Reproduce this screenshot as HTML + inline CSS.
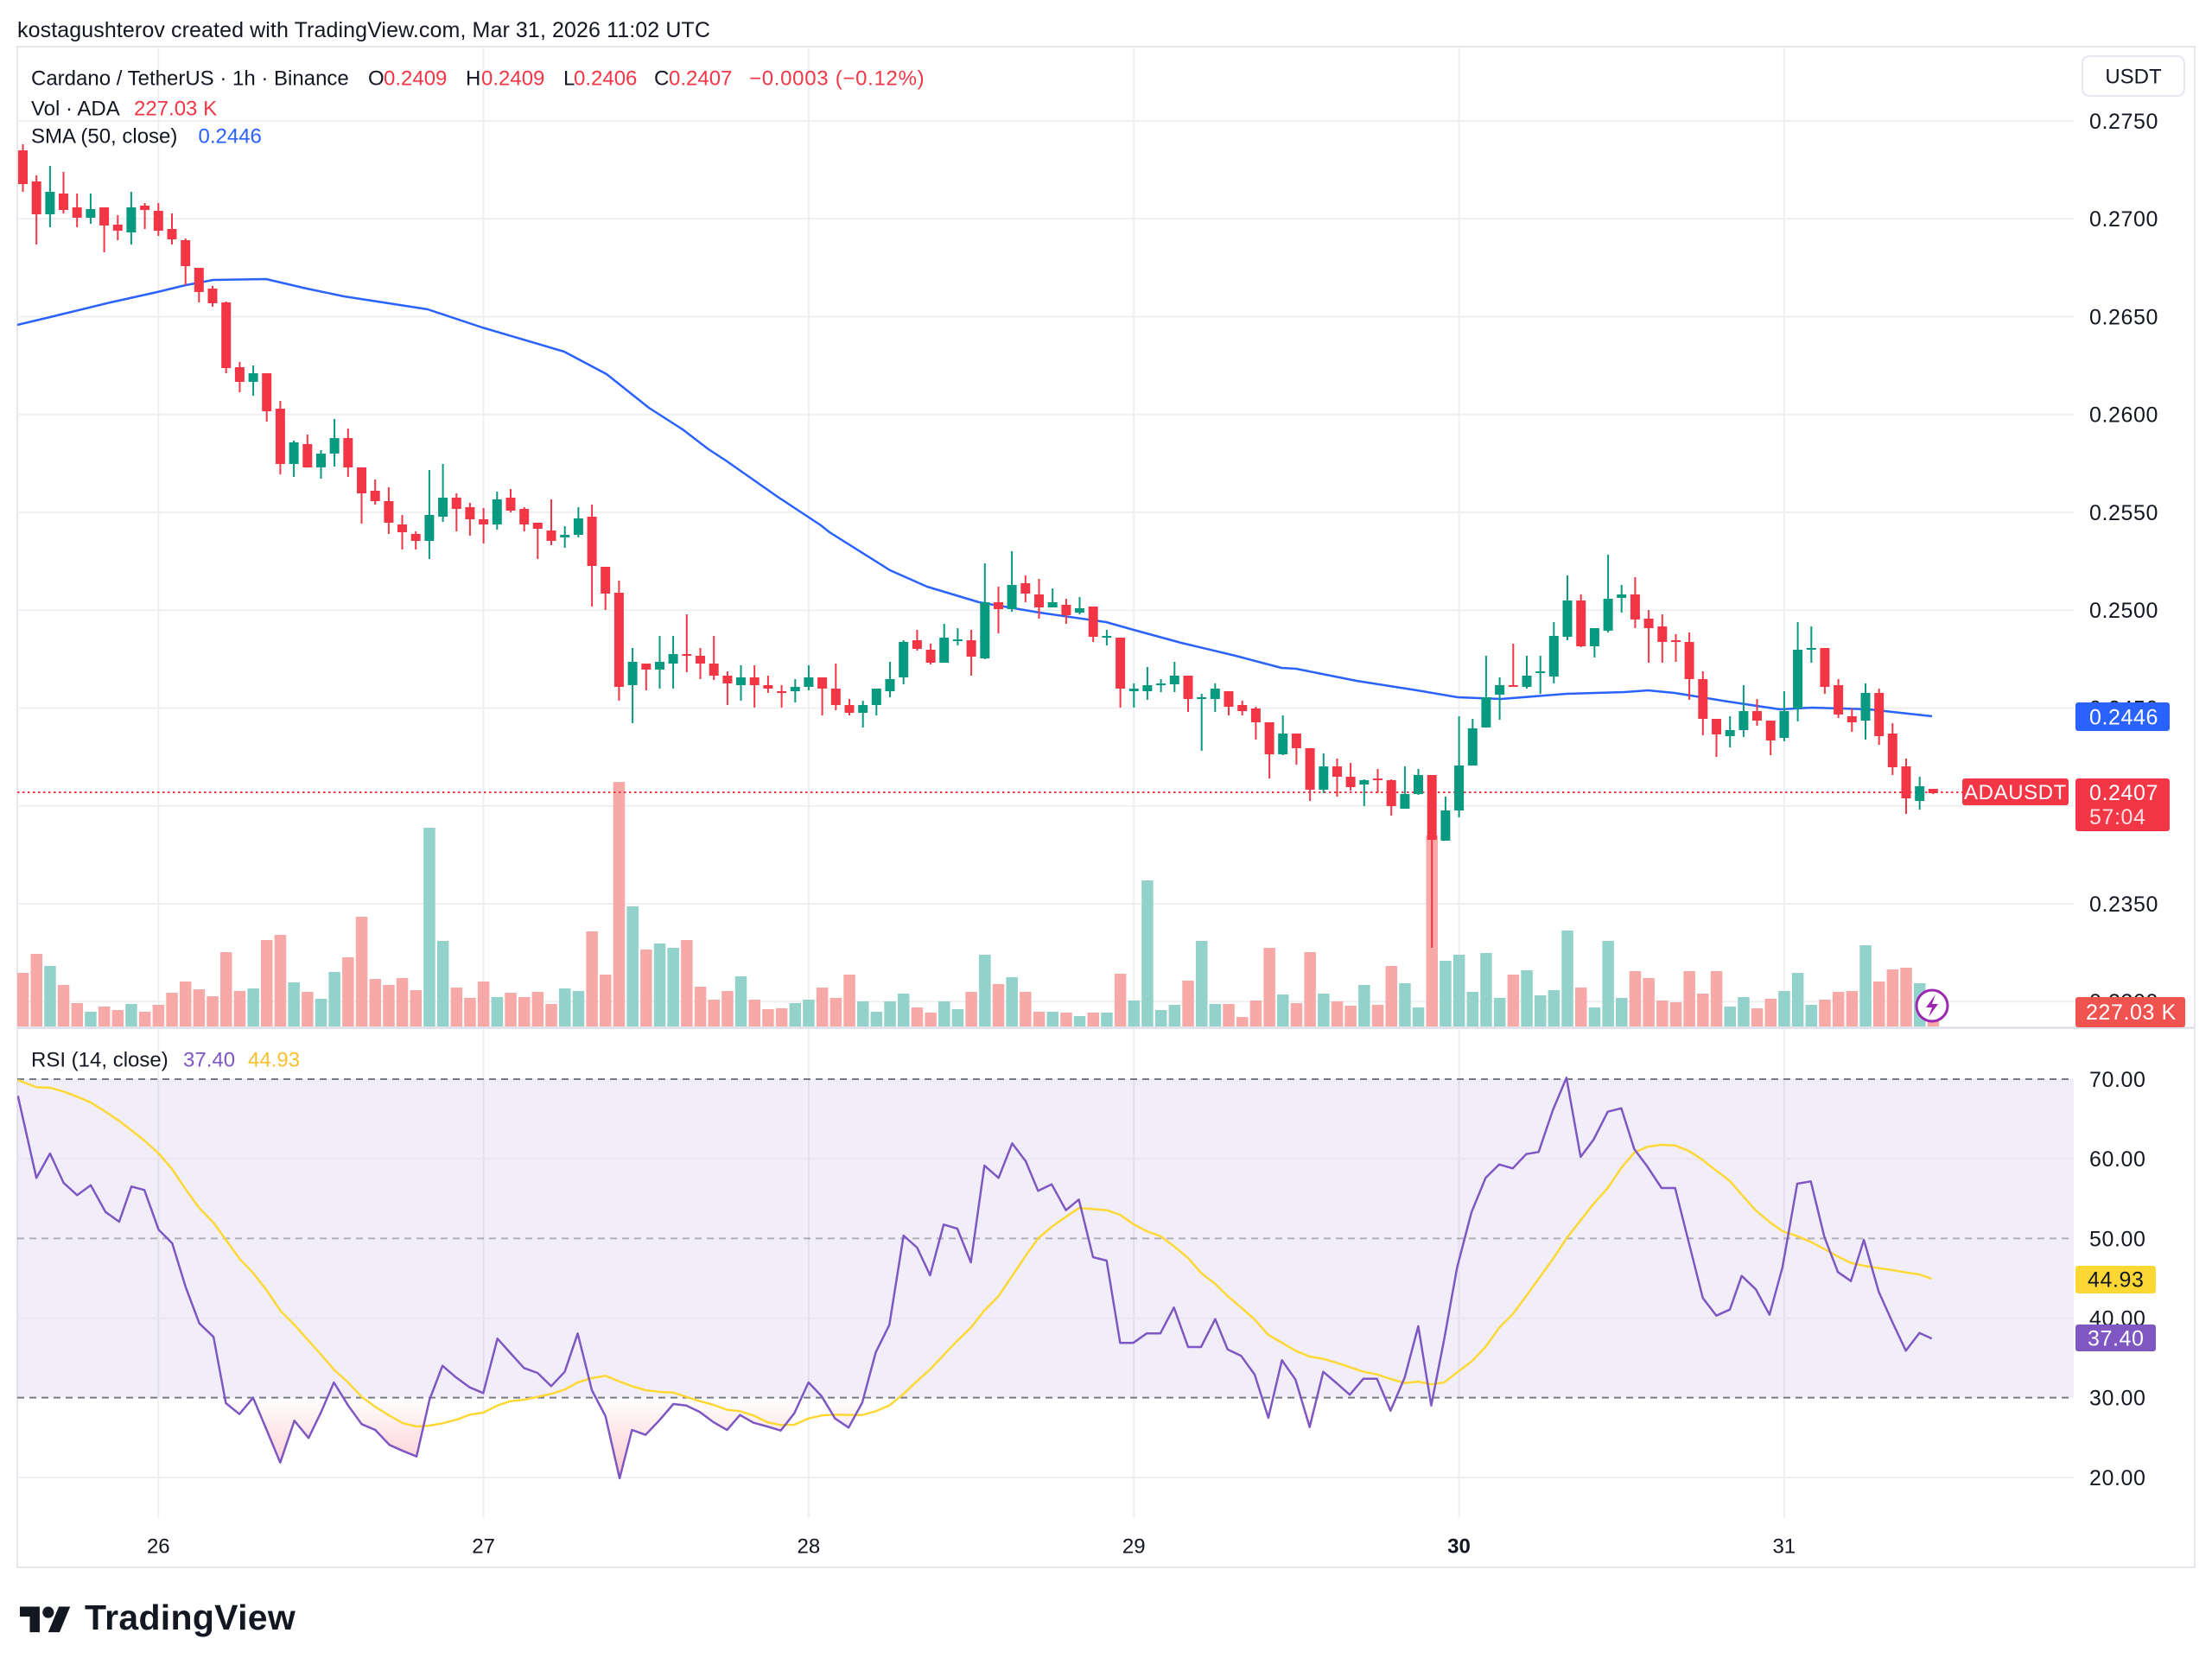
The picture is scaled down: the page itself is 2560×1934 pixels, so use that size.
<!DOCTYPE html>
<html><head><meta charset="utf-8"><style>
html,body{margin:0;padding:0;background:#fff;}
svg{display:block;}
text{font-family:"Liberation Sans",Arial,sans-serif;}
</style></head><body>
<svg width="2560" height="1934" viewBox="0 0 2560 1934" xmlns="http://www.w3.org/2000/svg">
<defs>
<clipPath id="mainc"><rect x="20" y="54" width="2380" height="1134"/></clipPath>
<clipPath id="rsic"><rect x="20" y="1191" width="2380" height="566"/></clipPath>
<clipPath id="below30"><rect x="20" y="1617.6" width="2380" height="140"/></clipPath>
<linearGradient id="pinkg" gradientUnits="userSpaceOnUse" x1="0" y1="1617.6" x2="0" y2="1712"><stop offset="0" stop-color="#f23645" stop-opacity="0"/><stop offset="1" stop-color="#f23645" stop-opacity="0.28"/></linearGradient>
</defs>
<rect width="2560" height="1934" fill="#fff"/>
<text x="20" y="43" font-size="25" letter-spacing="0.1" fill="#131722">kostagushterov created with TradingView.com, Mar 31, 2026 11:02 UTC</text>
<!-- frame -->
<rect x="20" y="54" width="2520" height="1760" fill="none" stroke="#e6e8ee" stroke-width="2"/>
<!-- vertical grid -->
<g stroke="#eeeff2" stroke-width="2">
<path d="M183.3 54V1188M559.6 54V1188M935.9 54V1188M1312.2 54V1188M1688.5 54V1188M2064.8 54V1188"/>
<path d="M183.3 1191V1757M559.6 1191V1757M935.9 1191V1757M1312.2 1191V1757M1688.5 1191V1757M2064.8 1191V1757"/>
<path d="M20 140H2400M20 253.25H2400M20 366.5H2400M20 479.75H2400M20 593H2400M20 706.25H2400M20 819.5H2400M20 932.75H2400M20 1046H2400M20 1159.25H2400"/>
</g>
<!-- pane separator -->
<path d="M20 1189.5H2540" stroke="#e0e3eb" stroke-width="3"/>

<g clip-path="url(#mainc)">
<!-- volume -->
<path fill="#f7a9a7" d="M19.8 1126h13.5V1188h-13.5zM35.5 1104h13.5V1188h-13.5zM66.8 1140h13.5V1188h-13.5zM82.5 1161h13.5V1188h-13.5zM113.9 1165h13.5V1188h-13.5zM129.6 1169h13.5V1188h-13.5zM160.9 1171h13.5V1188h-13.5zM176.6 1163h13.5V1188h-13.5zM192.3 1149h13.5V1188h-13.5zM208 1136h13.5V1188h-13.5zM223.6 1145h13.5V1188h-13.5zM239.3 1153h13.5V1188h-13.5zM255 1102h13.5V1188h-13.5zM270.7 1147h13.5V1188h-13.5zM302 1088h13.5V1188h-13.5zM317.7 1082h13.5V1188h-13.5zM349.1 1148h13.5V1188h-13.5zM396.1 1108h13.5V1188h-13.5zM411.8 1061h13.5V1188h-13.5zM427.5 1133h13.5V1188h-13.5zM443.2 1140h13.5V1188h-13.5zM458.8 1132h13.5V1188h-13.5zM474.5 1146h13.5V1188h-13.5zM521.6 1143h13.5V1188h-13.5zM537.2 1155h13.5V1188h-13.5zM552.9 1136h13.5V1188h-13.5zM584.3 1149h13.5V1188h-13.5zM600 1154h13.5V1188h-13.5zM615.6 1148h13.5V1188h-13.5zM631.3 1162h13.5V1188h-13.5zM678.4 1078h13.5V1188h-13.5zM694 1128h13.5V1188h-13.5zM709.7 905h13.5V1188h-13.5zM741.1 1099h13.5V1188h-13.5zM788.1 1088h13.5V1188h-13.5zM803.8 1142h13.5V1188h-13.5zM819.5 1157h13.5V1188h-13.5zM835.2 1147h13.5V1188h-13.5zM866.5 1157h13.5V1188h-13.5zM882.2 1168h13.5V1188h-13.5zM897.9 1167h13.5V1188h-13.5zM944.9 1143h13.5V1188h-13.5zM960.6 1155h13.5V1188h-13.5zM976.3 1128h13.5V1188h-13.5zM1054.7 1166h13.5V1188h-13.5zM1070.4 1172h13.5V1188h-13.5zM1117.4 1148h13.5V1188h-13.5zM1148.8 1139h13.5V1188h-13.5zM1180.1 1148h13.5V1188h-13.5zM1195.8 1171h13.5V1188h-13.5zM1227.2 1172h13.5V1188h-13.5zM1258.5 1172h13.5V1188h-13.5zM1289.9 1127h13.5V1188h-13.5zM1368.3 1135h13.5V1188h-13.5zM1415.3 1162h13.5V1188h-13.5zM1431 1177h13.5V1188h-13.5zM1446.7 1158h13.5V1188h-13.5zM1462.4 1097h13.5V1188h-13.5zM1493.7 1161h13.5V1188h-13.5zM1509.4 1102h13.5V1188h-13.5zM1540.8 1159h13.5V1188h-13.5zM1556.4 1164h13.5V1188h-13.5zM1587.8 1163h13.5V1188h-13.5zM1603.5 1118h13.5V1188h-13.5zM1650.5 967h13.5V1188h-13.5zM1744.6 1128h13.5V1188h-13.5zM1823 1143h13.5V1188h-13.5zM1885.7 1124h13.5V1188h-13.5zM1901.4 1132h13.5V1188h-13.5zM1917.1 1158h13.5V1188h-13.5zM1932.8 1160h13.5V1188h-13.5zM1948.4 1124h13.5V1188h-13.5zM1964.1 1150h13.5V1188h-13.5zM1979.8 1124h13.5V1188h-13.5zM2026.8 1167h13.5V1188h-13.5zM2042.5 1156h13.5V1188h-13.5zM2105.2 1157h13.5V1188h-13.5zM2120.9 1148h13.5V1188h-13.5zM2136.6 1147h13.5V1188h-13.5zM2168 1136h13.5V1188h-13.5zM2183.6 1122h13.5V1188h-13.5zM2199.3 1120h13.5V1188h-13.5zM2230.7 1182h13.5V1188h-13.5z"/>
<path fill="#92d2cb" d="M51.2 1118h13.5V1188h-13.5zM98.2 1171h13.5V1188h-13.5zM145.2 1162h13.5V1188h-13.5zM286.4 1144h13.5V1188h-13.5zM333.4 1137h13.5V1188h-13.5zM364.8 1156h13.5V1188h-13.5zM380.4 1125h13.5V1188h-13.5zM490.2 958h13.5V1188h-13.5zM505.9 1089h13.5V1188h-13.5zM568.6 1154h13.5V1188h-13.5zM647 1144h13.5V1188h-13.5zM662.7 1147h13.5V1188h-13.5zM725.4 1049h13.5V1188h-13.5zM756.8 1092h13.5V1188h-13.5zM772.4 1097h13.5V1188h-13.5zM850.8 1130h13.5V1188h-13.5zM913.6 1161h13.5V1188h-13.5zM929.2 1157h13.5V1188h-13.5zM992 1159h13.5V1188h-13.5zM1007.6 1171h13.5V1188h-13.5zM1023.3 1159h13.5V1188h-13.5zM1039 1150h13.5V1188h-13.5zM1086 1159h13.5V1188h-13.5zM1101.7 1168h13.5V1188h-13.5zM1133.1 1105h13.5V1188h-13.5zM1164.4 1131h13.5V1188h-13.5zM1211.5 1171h13.5V1188h-13.5zM1242.8 1176h13.5V1188h-13.5zM1274.2 1172h13.5V1188h-13.5zM1305.6 1158h13.5V1188h-13.5zM1321.2 1019h13.5V1188h-13.5zM1336.9 1169h13.5V1188h-13.5zM1352.6 1163h13.5V1188h-13.5zM1384 1089h13.5V1188h-13.5zM1399.6 1162h13.5V1188h-13.5zM1478 1151h13.5V1188h-13.5zM1525.1 1150h13.5V1188h-13.5zM1572.1 1140h13.5V1188h-13.5zM1619.2 1138h13.5V1188h-13.5zM1634.8 1166h13.5V1188h-13.5zM1666.2 1112h13.5V1188h-13.5zM1681.9 1105h13.5V1188h-13.5zM1697.6 1148h13.5V1188h-13.5zM1713.2 1103h13.5V1188h-13.5zM1728.9 1155h13.5V1188h-13.5zM1760.3 1123h13.5V1188h-13.5zM1776 1152h13.5V1188h-13.5zM1791.6 1146h13.5V1188h-13.5zM1807.3 1077h13.5V1188h-13.5zM1838.7 1166h13.5V1188h-13.5zM1854.4 1089h13.5V1188h-13.5zM1870 1155h13.5V1188h-13.5zM1995.5 1165h13.5V1188h-13.5zM2011.2 1154h13.5V1188h-13.5zM2058.2 1147h13.5V1188h-13.5zM2073.9 1126h13.5V1188h-13.5zM2089.6 1163h13.5V1188h-13.5zM2152.3 1094h13.5V1188h-13.5zM2215 1138h13.5V1188h-13.5z"/>
<!-- current price dotted line -->
<path d="M20 917H2271" stroke="#f23645" stroke-width="2" stroke-dasharray="2.5 3.5"/>
<!-- SMA -->
<polyline fill="none" stroke="#2962ff" stroke-width="2.5" stroke-linejoin="round" points="20,376 58,367 128,350 182,338 215,330 247,324 308,323 355,334 398,343 495,358 558,379 653,407 702,433 751,472 790,497 820,520 840,533 900,575 950,608 960,616 1030,660 1073,679 1133,697 1203,709 1280,720 1312,729 1367,744 1430,759 1483,773 1500,774 1570,788 1640,799 1687,807 1737,809 1813,803 1880,801 1907,799 1938,802 2000,812 2060,821 2097,819 2163,821 2236,829"/>
<!-- wicks -->
<path fill="none" stroke="#f23645" stroke-width="2" d="M26.5 167V222M42.2 203V283M73.5 199V247M89.2 224V263M120.6 240V292M136.3 249V278M167.6 235V265M183.3 235V273M199 247V283M214.7 276V330M230.3 310V350M246 331V355M261.7 349V432M277.4 419V454M308.7 432V488M324.4 464V549M355.8 503V541M402.8 496V552M418.5 541V606M434.2 555V584M449.9 564V618M465.5 596V636M481.2 615V636M528.3 571V615M543.9 582V620M559.6 588V629M591 566V593M606.7 587V615M622.3 605V647M638 578V631M685.1 584V702M700.7 656V706M716.4 672V811M747.8 768V799M794.8 711V778M810.5 750V786M826.2 736V787M841.9 777V816M873.2 770V819M888.9 782V802M904.6 793V819M951.6 784V828M967.3 768V822M983 809V828M1061.4 729V753M1077.1 745V769M1124.1 729V782M1155.5 679V733M1186.8 666V697M1202.5 670V716M1233.9 693V722M1265.2 702V743M1296.6 738V819M1375 782V824M1422 800V828M1437.7 811V828M1453.4 818V856M1469.1 836V901M1500.4 849V885M1516.1 866V927M1547.5 878V922M1563.1 883V915M1594.5 890V918M1610.2 902V944M1657.2 897V1097M1751.3 745V795M1829.7 688V749M1892.4 668V727M1908.1 706V767M1923.8 711V767M1939.5 734V766M1955.1 732V810M1970.8 777V851M1986.5 832V876M2033.5 809V840M2049.2 834V874M2111.9 750V803M2127.6 786V831M2143.3 820V847M2174.7 797V862M2190.3 837V897M2206 878V942M2237.4 913V919"/>
<path fill="none" stroke="#089981" stroke-width="2" d="M57.9 192V263M104.9 224V259M151.9 222V283M293.1 423V458M340.1 510V552M371.5 521V554M387.1 485V540M496.9 544V647M512.6 537V604M575.3 569V613M653.7 609V634M669.4 587V622M732.1 750V837M763.5 736V797M779.1 736V797M857.5 770V811M920.3 786V813M935.9 770V799M998.7 811V842M1014.3 797V828M1030 766V807M1045.7 741V792M1092.7 722V767M1108.4 727V747M1139.8 652V763M1171.1 638V708M1218.2 681V703M1249.5 691V711M1280.9 729V747M1312.3 791V819M1327.9 772V810M1343.6 786V801M1359.3 766V801M1390.7 803V869M1406.3 791V824M1484.7 828V874M1531.8 872V918M1578.8 902V933M1625.9 887V936M1641.5 890V920M1672.9 922V973M1688.6 829V946M1704.3 832V886M1719.9 759V842M1735.6 784V833M1767 759V797M1782.7 759V803M1798.3 720V791M1814 666V741M1845.4 727V761M1861.1 642V732M1876.7 677V709M2002.2 829V865M2017.9 793V853M2064.9 800V858M2080.6 720V835M2096.3 725V767M2159 791V856M2221.7 899V937"/>
<!-- bodies -->
<path fill="#f23645" d="M21 174h11V213h-11zM36.7 210h11V248h-11zM68 224h11V243h-11zM83.7 240h11V252h-11zM115.1 240h11V261h-11zM130.8 260h11V267h-11zM162.1 238h11V243h-11zM177.8 244h11V267h-11zM193.5 265h11V277h-11zM209.2 278h11V308h-11zM224.8 310h11V338h-11zM240.5 334h11V351h-11zM256.2 350h11V426h-11zM271.9 425h11V442h-11zM303.2 432h11V476h-11zM318.9 473h11V537h-11zM350.3 514h11V541h-11zM397.3 507h11V541h-11zM413 541h11V571h-11zM428.7 568h11V580h-11zM444.4 580h11V605h-11zM460 607h11V616h-11zM475.7 618h11V626h-11zM522.8 576h11V589h-11zM538.4 587h11V601h-11zM554.1 601h11V607h-11zM585.5 576h11V591h-11zM601.2 589h11V607h-11zM616.8 605h11V612h-11zM632.5 614h11V626h-11zM679.6 598h11V655h-11zM695.2 656h11V687h-11zM710.9 686h11V795h-11zM742.3 768h11V775h-11zM789.3 757h11V759h-11zM805 759h11V768h-11zM820.7 768h11V782h-11zM836.4 782h11V791h-11zM867.7 784h11V793h-11zM883.4 793h11V797h-11zM899.1 800h11V802h-11zM946.1 784h11V797h-11zM961.8 797h11V816h-11zM977.5 816h11V825h-11zM1055.9 741h11V751h-11zM1071.6 752h11V767h-11zM1118.6 741h11V760h-11zM1150 697h11V705h-11zM1181.3 675h11V687h-11zM1197 688h11V703h-11zM1228.4 700h11V712h-11zM1259.7 702h11V737h-11zM1291.1 738h11V797h-11zM1369.5 782h11V809h-11zM1416.5 800h11V818h-11zM1432.2 816h11V823h-11zM1447.9 820h11V836h-11zM1463.6 836h11V873h-11zM1494.9 849h11V866h-11zM1510.6 866h11V914h-11zM1542 887h11V899h-11zM1557.6 899h11V911h-11zM1589 901h11V903h-11zM1604.7 903h11V933h-11zM1651.7 897h11V972h-11zM1745.8 793h11V795h-11zM1824.2 695h11V748h-11zM1886.9 688h11V717h-11zM1902.6 716h11V727h-11zM1918.3 725h11V743h-11zM1934 741h11V743h-11zM1949.6 743h11V786h-11zM1965.3 786h11V832h-11zM1981 832h11V850h-11zM2028 823h11V834h-11zM2043.7 834h11V857h-11zM2106.4 750h11V795h-11zM2122.1 793h11V827h-11zM2137.8 829h11V836h-11zM2169.2 802h11V852h-11zM2184.8 849h11V888h-11zM2200.5 887h11V924h-11zM2231.9 913h11V918h-11z"/>
<path fill="#089981" d="M52.4 222h11V248h-11zM99.4 242h11V252h-11zM146.4 240h11V269h-11zM287.6 432h11V442h-11zM334.6 512h11V537h-11zM366 525h11V541h-11zM381.6 507h11V525h-11zM491.4 596h11V626h-11zM507.1 576h11V598h-11zM569.8 578h11V607h-11zM648.2 619h11V622h-11zM663.9 600h11V619h-11zM726.6 766h11V793h-11zM758 766h11V775h-11zM773.6 757h11V768h-11zM852 784h11V793h-11zM914.8 795h11V800h-11zM930.4 784h11V795h-11zM993.2 816h11V825h-11zM1008.8 797h11V816h-11zM1024.5 786h11V800h-11zM1040.2 743h11V784h-11zM1087.2 738h11V767h-11zM1102.9 740h11V742h-11zM1134.3 697h11V762h-11zM1165.6 677h11V705h-11zM1212.7 697h11V703h-11zM1244 704h11V709h-11zM1275.4 736h11V738h-11zM1306.8 797h11V800h-11zM1322.4 793h11V800h-11zM1338.1 791h11V793h-11zM1353.8 782h11V792h-11zM1385.2 807h11V809h-11zM1400.8 797h11V809h-11zM1479.2 849h11V873h-11zM1526.3 887h11V914h-11zM1573.3 903h11V908h-11zM1620.4 919h11V936h-11zM1636 897h11V919h-11zM1667.4 938h11V973h-11zM1683.1 886h11V938h-11zM1698.8 843h11V886h-11zM1714.4 807h11V842h-11zM1730.1 793h11V804h-11zM1761.5 782h11V795h-11zM1777.2 777h11V779h-11zM1792.8 736h11V783h-11zM1808.5 695h11V737h-11zM1839.9 727h11V748h-11zM1855.6 693h11V730h-11zM1871.2 688h11V692h-11zM1996.7 845h11V852h-11zM2012.4 823h11V845h-11zM2059.4 823h11V854h-11zM2075.1 752h11V820h-11zM2090.8 750h11V752h-11zM2153.5 802h11V834h-11zM2216.2 910h11V927h-11z"/>
<!-- lightning icon -->
<circle cx="2236" cy="1164" r="18" fill="#fff" stroke="#9c27b0" stroke-width="3"/>
<path d="M2240 1151L2229 1166H2236L2232 1177L2243 1162H2236Z" fill="#9c27b0"/>
</g>

<!-- legends main -->
<g font-size="24" fill="#131722">
<text x="36" y="98.6">Cardano / TetherUS · 1h · Binance</text>
<text x="426" y="98.6">O</text><text x="444" y="98.6" fill="#f23645">0.2409</text>
<text x="539" y="98.6">H</text><text x="557" y="98.6" fill="#f23645">0.2409</text>
<text x="652" y="98.6">L</text><text x="664" y="98.6" fill="#f23645">0.2406</text>
<text x="757" y="98.6">C</text><text x="774" y="98.6" fill="#f23645">0.2407</text>
<text x="867" y="98.6" fill="#f23645" letter-spacing="0.7">−0.0003 (−0.12%)</text>
<text x="36" y="133.6">Vol · ADA</text><text x="155" y="133.6" fill="#f23645">227.03 K</text>
<text x="36" y="165.6">SMA (50, close)</text><text x="229.5" y="165.6" fill="#2962ff">0.2446</text>
</g>

<!-- RSI pane -->
<rect x="20" y="1249" width="2380" height="368.6" fill="#7e57c2" fill-opacity="0.1"/>
<g stroke="#e9e6f1" stroke-width="2"><path d="M20 1341.2H2400M20 1525.6H2400"/></g>
<path d="M20 1710H2400" stroke="#eeeff2" stroke-width="2"/>
<path d="M20 1249H2400M20 1617.6H2400" stroke="#787b86" stroke-width="2" stroke-dasharray="8 6"/>
<path d="M20 1433.4H2400" stroke="#787b86" stroke-opacity="0.55" stroke-width="2" stroke-dasharray="8 6"/>
<g clip-path="url(#rsic)">
<g clip-path="url(#below30)">
<polygon fill="url(#pinkg)" points="20.7,1268.3 42.1,1363.3 57.9,1335 73.6,1369 89.3,1383.3 105,1371.7 122.1,1402.7 137.9,1414 152.1,1373.3 167.1,1377.3 183.6,1423.3 199.3,1439 215,1490 230.7,1531.7 247.1,1547.3 261.4,1624 277.1,1636.7 292.9,1617.7 308.6,1655 324.3,1692.7 340.7,1644.3 357.1,1664.3 372.1,1633.3 386.4,1600 402.9,1626.7 418.6,1648.3 434.3,1655 450.7,1672.3 466.4,1679.3 482.1,1685.7 497.1,1620 512.1,1580.7 527.9,1594.3 543.6,1605.7 559.3,1612.3 575.7,1549.3 590.7,1566 606.4,1583.3 622.1,1589 637.9,1604.3 653.6,1587.7 668.6,1543.3 685,1609 700.7,1639 717.1,1711 731.4,1655 747.1,1660.7 763.6,1643.3 779.3,1625 794.3,1626.7 810,1634.3 825.7,1646 841.4,1655 856.4,1637.7 872.1,1646.7 887.9,1651 903.6,1655.7 919.3,1635.7 935.7,1600 950.7,1615.7 966.4,1641.7 982.1,1652.3 997.9,1623.3 1013.6,1565 1029.3,1533.3 1045.7,1430 1061.4,1444 1076.4,1476 1092.1,1417.3 1107.9,1422 1123.6,1461 1139.3,1349 1155.7,1363.3 1171.4,1323.3 1187.1,1344 1201.4,1378.3 1217.1,1370.7 1233.6,1400.7 1248.6,1388.3 1265,1455 1280.7,1459 1296.4,1554.3 1311.4,1554.3 1327.1,1543.3 1342.9,1543.3 1358.6,1513.3 1375,1559 1390,1559 1406.4,1526.7 1420.7,1561.7 1436.4,1569.3 1452.1,1591 1467.9,1641 1483.6,1574.3 1499.3,1596.7 1515.7,1651.7 1531.4,1587.7 1547.1,1601 1562.1,1614.3 1577.9,1595.7 1593.6,1595.7 1609.3,1632.7 1625.7,1594.3 1641.4,1535 1656.4,1626.7 1671.4,1550 1686.4,1466.7 1702.9,1403.3 1719.3,1363.3 1735,1347.7 1750.7,1352.3 1766.4,1335.7 1780.7,1333.3 1797.1,1285 1812.9,1247.3 1829.3,1339 1844.3,1319 1860.7,1286.7 1876.4,1282.7 1891.4,1330 1906.4,1350 1922.9,1375 1938.6,1375 1955,1440 1970.7,1502.3 1986.4,1522.7 2002,1515.7 2015.7,1476.7 2032.1,1492.3 2047.9,1521.7 2062.9,1466.7 2080,1370 2095.7,1367.3 2111.4,1431.7 2127.1,1472.3 2142.1,1482.7 2157.1,1435 2174.3,1495 2190,1530 2205.7,1563.3 2221.4,1542.7 2235.7,1549.3 2235.7,1617.6 20.7,1617.6"/>
</g>
<polyline fill="none" stroke="#fdd835" stroke-width="2.5" stroke-linejoin="round" points="20.7,1250 42.1,1258.3 57.9,1259 73.6,1263.3 89.3,1269.3 105,1276 122.1,1286.7 137.9,1297.3 152.1,1308.3 167.1,1320 183.6,1335 199.3,1353.3 215,1376.7 230.7,1398.3 247.1,1415 261.4,1435 277.1,1456.7 292.9,1473.3 308.6,1493.3 324.3,1516.7 340.7,1533.3 357.1,1551.7 372.1,1568.3 386.4,1585 402.9,1600 418.6,1616.7 434.3,1628.3 450.7,1638.3 466.4,1647.3 482.1,1651 497.1,1650 512.1,1647.3 527.9,1643.3 543.6,1637.3 559.3,1635 575.7,1626.7 590.7,1621.7 606.4,1620 622.1,1616.7 637.9,1613.3 653.6,1608.3 668.6,1600 685,1595 700.7,1592.3 717.1,1599 731.4,1604.3 747.1,1609 763.6,1611 779.3,1611.7 794.3,1616.7 810,1621.7 825.7,1626 841.4,1631.7 856.4,1633.3 872.1,1638.3 887.9,1646 903.6,1649.3 919.3,1649 935.7,1641.7 950.7,1638.3 966.4,1637.3 982.1,1637.7 997.9,1637.7 1013.6,1633.3 1029.3,1626.7 1045.7,1613.3 1061.4,1598.3 1076.4,1585 1092.1,1568.3 1107.9,1551.7 1123.6,1536.7 1139.3,1516.7 1155.7,1500 1171.4,1476.7 1187.1,1453.3 1201.4,1433.3 1217.1,1420 1233.6,1408.3 1248.6,1398.3 1265,1399.3 1280.7,1400.7 1296.4,1406 1311.4,1416.7 1327.1,1425 1342.9,1430.7 1358.6,1442.3 1375,1456 1390,1473.3 1406.4,1486 1420.7,1500 1436.4,1513.3 1452.1,1527.3 1467.9,1545 1483.6,1554 1499.3,1563.3 1515.7,1570 1531.4,1572.7 1547.1,1577.3 1562.1,1582.3 1577.9,1587.7 1593.6,1590.7 1609.3,1596 1625.7,1600.7 1641.4,1599 1656.4,1602.3 1671.4,1600 1686.4,1588.3 1702.9,1576 1719.3,1559 1735,1536.7 1750.7,1521 1766.4,1500 1780.7,1480 1797.1,1457.3 1812.9,1433.3 1829.3,1412.3 1844.3,1393.3 1860.7,1375 1876.4,1351.7 1891.4,1334 1906.4,1327.3 1922.9,1325 1938.6,1325.7 1955,1332.3 1970.7,1342.7 1986.4,1355 2002,1366.7 2015.7,1382.7 2032.1,1401 2047.9,1414.3 2062.9,1425 2080,1430.7 2095.7,1437.3 2111.4,1445.7 2127.1,1454.3 2142.1,1461.7 2157.1,1465 2174.3,1467.7 2190,1470 2205.7,1472.7 2221.4,1475 2235.7,1480"/>
<polyline fill="none" stroke="#7e57c2" stroke-width="2.5" stroke-linejoin="round" points="20.7,1268.3 42.1,1363.3 57.9,1335 73.6,1369 89.3,1383.3 105,1371.7 122.1,1402.7 137.9,1414 152.1,1373.3 167.1,1377.3 183.6,1423.3 199.3,1439 215,1490 230.7,1531.7 247.1,1547.3 261.4,1624 277.1,1636.7 292.9,1617.7 308.6,1655 324.3,1692.7 340.7,1644.3 357.1,1664.3 372.1,1633.3 386.4,1600 402.9,1626.7 418.6,1648.3 434.3,1655 450.7,1672.3 466.4,1679.3 482.1,1685.7 497.1,1620 512.1,1580.7 527.9,1594.3 543.6,1605.7 559.3,1612.3 575.7,1549.3 590.7,1566 606.4,1583.3 622.1,1589 637.9,1604.3 653.6,1587.7 668.6,1543.3 685,1609 700.7,1639 717.1,1711 731.4,1655 747.1,1660.7 763.6,1643.3 779.3,1625 794.3,1626.7 810,1634.3 825.7,1646 841.4,1655 856.4,1637.7 872.1,1646.7 887.9,1651 903.6,1655.7 919.3,1635.7 935.7,1600 950.7,1615.7 966.4,1641.7 982.1,1652.3 997.9,1623.3 1013.6,1565 1029.3,1533.3 1045.7,1430 1061.4,1444 1076.4,1476 1092.1,1417.3 1107.9,1422 1123.6,1461 1139.3,1349 1155.7,1363.3 1171.4,1323.3 1187.1,1344 1201.4,1378.3 1217.1,1370.7 1233.6,1400.7 1248.6,1388.3 1265,1455 1280.7,1459 1296.4,1554.3 1311.4,1554.3 1327.1,1543.3 1342.9,1543.3 1358.6,1513.3 1375,1559 1390,1559 1406.4,1526.7 1420.7,1561.7 1436.4,1569.3 1452.1,1591 1467.9,1641 1483.6,1574.3 1499.3,1596.7 1515.7,1651.7 1531.4,1587.7 1547.1,1601 1562.1,1614.3 1577.9,1595.7 1593.6,1595.7 1609.3,1632.7 1625.7,1594.3 1641.4,1535 1656.4,1626.7 1671.4,1550 1686.4,1466.7 1702.9,1403.3 1719.3,1363.3 1735,1347.7 1750.7,1352.3 1766.4,1335.7 1780.7,1333.3 1797.1,1285 1812.9,1247.3 1829.3,1339 1844.3,1319 1860.7,1286.7 1876.4,1282.7 1891.4,1330 1906.4,1350 1922.9,1375 1938.6,1375 1955,1440 1970.7,1502.3 1986.4,1522.7 2002,1515.7 2015.7,1476.7 2032.1,1492.3 2047.9,1521.7 2062.9,1466.7 2080,1370 2095.7,1367.3 2111.4,1431.7 2127.1,1472.3 2142.1,1482.7 2157.1,1435 2174.3,1495 2190,1530 2205.7,1563.3 2221.4,1542.7 2235.7,1549.3"/>
</g>
<g font-size="24">
<text x="36" y="1234.6" fill="#131722">RSI (14, close)</text>
<text x="212" y="1234.6" fill="#7e57c2">37.40</text>
<text x="287" y="1234.6" fill="#f5c12e">44.93</text>
</g>

<!-- price axis -->
<rect x="2410" y="65" width="118" height="46" rx="8" fill="#fff" stroke="#e6e8ee" stroke-width="2"/>
<text x="2469" y="96.6" font-size="24" fill="#131722" text-anchor="middle">USDT</text>
<g font-size="25" fill="#131722" letter-spacing="0.6">
<text x="2418" y="149">0.2750</text>
<text x="2418" y="262.2">0.2700</text>
<text x="2418" y="375.5">0.2650</text>
<text x="2418" y="488.7">0.2600</text>
<text x="2418" y="602">0.2550</text>
<text x="2418" y="715.2">0.2500</text>
<text x="2418" y="828.5">0.2450</text>
<text x="2418" y="1055">0.2350</text>
<text x="2418" y="1168.2">0.2300</text>
<text x="2418" y="1258">70.00</text>
<text x="2418" y="1350.2">60.00</text>
<text x="2418" y="1442.4">50.00</text>
<text x="2418" y="1534.6">40.00</text>
<text x="2418" y="1626.6">30.00</text>
<text x="2418" y="1719">20.00</text>
</g>
<!-- value labels -->
<rect x="2402" y="813" width="109" height="33" rx="3" fill="#2962ff"/>
<text x="2418" y="838.5" font-size="25" fill="#fff" letter-spacing="0.6">0.2446</text>
<rect x="2271" y="901" width="123" height="31" rx="3" fill="#f23645"/>
<text x="2332.5" y="925" font-size="24" fill="#fff" text-anchor="middle" letter-spacing="0.6">ADAUSDT</text>
<rect x="2402" y="901" width="109" height="61" rx="3" fill="#f23645"/>
<text x="2418" y="926" font-size="25" fill="#fff" letter-spacing="0.6">0.2407</text>
<text x="2418" y="954" font-size="25" fill="#fff" fill-opacity="0.85" letter-spacing="0.6">57:04</text>
<rect x="2402" y="1154" width="127" height="35" rx="3" fill="#ef5350"/>
<text x="2414" y="1180" font-size="25" fill="#fff" letter-spacing="0.6">227.03 K</text>
<rect x="2402" y="1465" width="93" height="32" rx="3" fill="#fdd835"/>
<text x="2416" y="1489.6" font-size="25" fill="#131722" letter-spacing="0.6">44.93</text>
<rect x="2402" y="1533" width="93" height="31" rx="3" fill="#7e57c2"/>
<text x="2416" y="1557.6" font-size="25" fill="#fff" letter-spacing="0.6">37.40</text>

<!-- time axis -->
<g font-size="24" fill="#131722" text-anchor="middle">
<text x="183.3" y="1797.6">26</text>
<text x="559.6" y="1797.6">27</text>
<text x="935.9" y="1797.6">28</text>
<text x="1312.2" y="1797.6">29</text>
<text x="1688.5" y="1797.6" font-weight="bold">30</text>
<text x="2064.8" y="1797.6">31</text>
</g>

<!-- logo -->
<g transform="translate(23,1853) scale(1.64)" fill="#131722">
<path d="M14 22H7V11H0V4h14v18zM28 22h-8l7.5-18h8L28 22z"/>
<circle cx="20" cy="8" r="4"/>
</g>
<text x="98" y="1886" font-size="41" font-weight="bold" fill="#131722" letter-spacing="0.3">TradingView</text>
</svg>
</body></html>
